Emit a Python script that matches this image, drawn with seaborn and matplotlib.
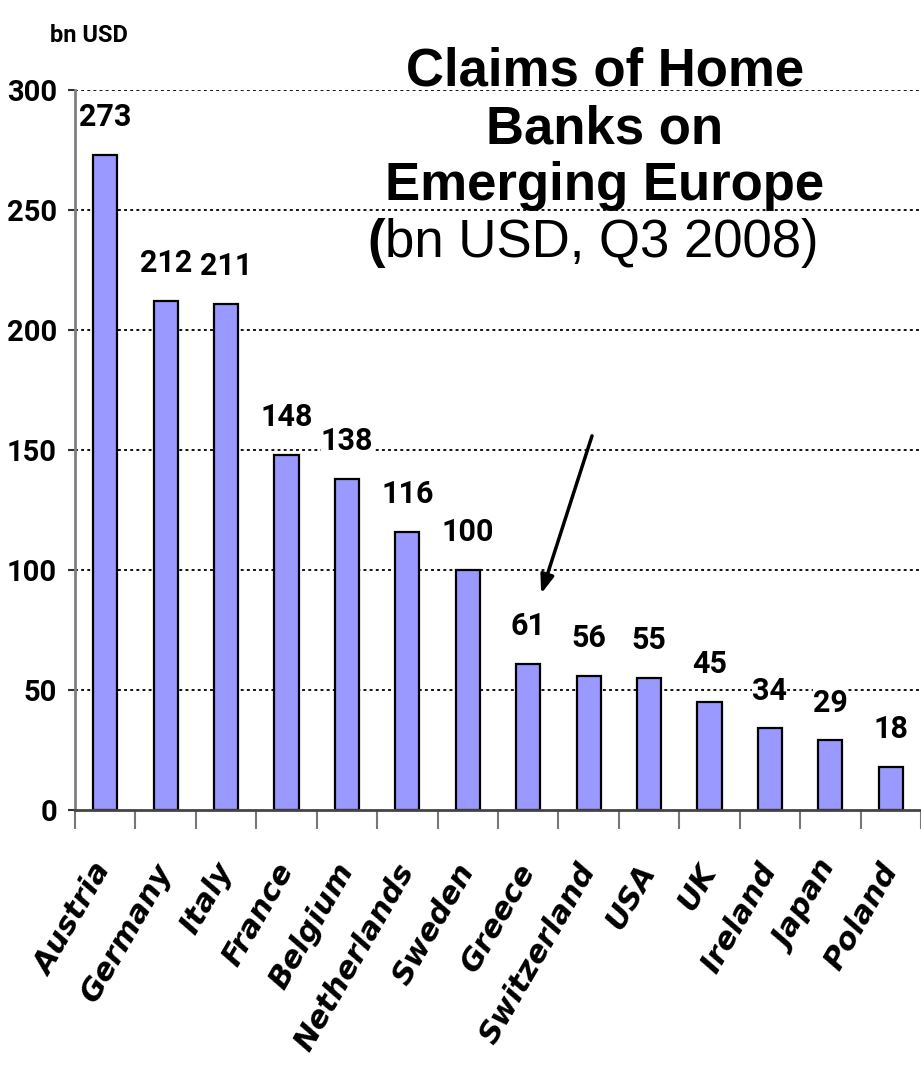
import numpy as np
import matplotlib
matplotlib.use('Agg')
import matplotlib.pyplot as plt
import seaborn as sns

# claims of home banks on emerging Europe, bn USD, Q3 2008
countries = ['Austria', 'Germany', 'Italy', 'France', 'Belgium', 'Netherlands',
             'Sweden', 'Greece', 'Switzerland', 'USA', 'UK', 'Ireland',
             'Japan', 'Poland']
claims = [273, 212, 211, 148, 138, 116, 100, 61, 56, 55, 45, 34, 29, 18]
y_ticks = [0, 50, 100, 150, 200, 250, 300]

sns.set_style('white')
plt.rcParams['font.family'] = ['DejaVu Sans']
plt.rcParams['text.color'] = 'black'
plt.rcParams['xtick.labelcolor'] = 'black'
plt.rcParams['ytick.labelcolor'] = 'black'

NARROW = ['Roboto', 'DejaVu Sans']
ARIAL = ['Liberation Sans', 'DejaVu Sans']
BAR_COL = '#9999FF'

fig = plt.figure(figsize=(9.21, 10.67), dpi=100)
ax = fig.add_axes([75 / 921, 1 - 810 / 1067, 846 / 921, 720 / 1067])

sns.barplot(x=countries, y=claims, ax=ax, color=BAR_COL, saturation=1,
            width=0.4, edgecolor='black', linewidth=1.6)

ax.set_xlim(-0.5, 846 / 61 - 0.5)
ax.set_ylim(0, 300)
ax.set_xlabel('')
ax.set_ylabel('')

# dotted gridlines
for yv in y_ticks[1:]:
    ax.axhline(yv, color='black', linestyle=(0, (1.6, 1.8)), linewidth=1.3, zorder=0)

# y axis
ax.set_yticks(y_ticks)
ax.set_yticklabels([str(t) for t in y_ticks], fontfamily=NARROW,
                   fontweight='bold', fontsize=21)
ax.tick_params(axis='y', length=5, width=1.5, color='#333333', pad=8, left=True)

# x axis: labels centred, tick marks between bars
ax.set_xticks(range(len(countries)))
ax.set_xticklabels(countries, rotation=60, ha='right', va='center',
                   rotation_mode='anchor', fontweight='bold', style='italic',
                   fontsize=22)
ax.tick_params(axis='x', length=0, pad=40)
ax.set_xticks(np.arange(-0.5, len(countries), 1), minor=True)
ax.tick_params(axis='x', which='minor', length=14, width=1.5, color='#777777',
               bottom=True)

for side in ['top', 'right']:
    ax.spines[side].set_visible(False)
ax.spines['left'].set_color('#808080')
ax.spines['left'].set_linewidth(2)
ax.spines['bottom'].set_color('#444444')
ax.spines['bottom'].set_linewidth(2)

# value labels
for i, v in enumerate(claims):
    ax.text(i, v + 9.5, str(v), ha='center', va='bottom', fontfamily=NARROW,
            fontweight='bold', fontsize=22,
            bbox=dict(facecolor='white', edgecolor='none', pad=0))

# unit label
fig.text(50 / 921, 1 - 42 / 1067, 'bn USD', fontfamily=NARROW,
         fontweight='bold', fontsize=17, ha='left', va='baseline')

# title
title_lines = ['Claims of Home', 'Banks on', 'Emerging Europe']
for k, line in enumerate(title_lines):
    fig.text(605 / 921, 1 - (86 + 57 * k) / 1067, line, fontfamily=ARIAL,
             fontweight='bold', fontsize=38, ha='center', va='baseline')
fig.text(367 / 921, 1 - 257 / 1067, '(', fontfamily=ARIAL,
         fontweight='bold', fontsize=38, ha='left', va='baseline')
fig.text(385 / 921, 1 - 257 / 1067, 'bn USD, Q3 2008)', fontfamily=ARIAL,
         fontsize=38, ha='left', va='baseline')

# arrow pointing at Greece
ax.annotate('', xy=(7.2, 89), xytext=(8.07, 157),
            arrowprops=dict(arrowstyle='-|>,head_length=1.1,head_width=0.4',
                            color='black', lw=2.5))

fig.savefig('out.png', dpi=100)
